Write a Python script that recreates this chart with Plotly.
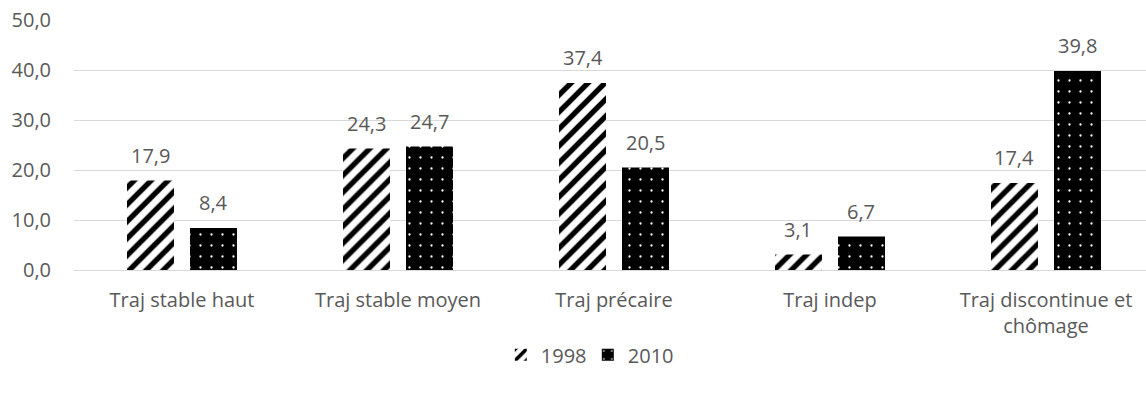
import plotly.graph_objects as go

categories = ["Traj stable haut", "Traj stable moyen", "Traj précaire", "Traj indep",
              "Traj discontinue et<br>chômage"]
values_1998 = [17.9, 24.3, 37.4, 3.1, 17.4]
values_2010 = [8.4, 24.7, 20.5, 6.7, 39.8]
y_ticks = [0, 10, 20, 30, 40, 50]

FONT = "Open Sans"
GREY = "#595959"
SIZE = 20
CAT_PX = 216          # pixel width of one category slot
SLOT_PX = 63          # distance between the two bar centres in a group


def fmt(v):
    return f"{v:.1f}".replace(".", ",")


fig = go.Figure()
fig.add_trace(go.Bar(
    name="1998", x=categories, y=values_1998,
    marker=dict(color="white", line=dict(width=0),
                pattern=dict(shape="/", fgcolor="black", bgcolor="white",
                             fgopacity=1, size=12, solidity=0.45)),
))
fig.add_trace(go.Bar(
    name="2010", x=categories, y=values_2010,
    marker=dict(color="black", line=dict(width=0),
                pattern=dict(shape=".", fgcolor="white", bgcolor="black",
                             fgopacity=1, size=11, solidity=0.035)),
))

# value labels above each bar
for series, dx in ((values_1998, -SLOT_PX / 2), (values_2010, SLOT_PX / 2)):
    for cat, v in zip(categories, series):
        fig.add_annotation(x=cat, y=v, xref="x", yref="y", text=fmt(v),
                           showarrow=False, xshift=dx, yshift=10,
                           yanchor="bottom", xanchor="center",
                           font=dict(family=FONT, size=SIZE, color=GREY))

fig.update_layout(
    width=1146, height=396,
    margin=dict(l=74, r=0, t=20, b=126, autoexpand=False),
    paper_bgcolor="white", plot_bgcolor="white",
    separators=", ",
    barmode="group", bargap=1 - 2 * SLOT_PX / CAT_PX, bargroupgap=0.254,
    font=dict(family=FONT, size=SIZE, color=GREY),
    showlegend=True,
    legend=dict(orientation="h", xref="container", x=0.437, xanchor="left",
                yref="container", y=0.104, yanchor="middle",
                font=dict(family=FONT, size=SIZE, color=GREY),
                itemwidth=30, entrywidth=42, tracegroupgap=0),
)
fig.update_xaxes(range=[-0.5, 4.463], showgrid=False, showline=False,
                 ticks="", ticklabelstandoff=16, automargin=False,
                 tickfont=dict(family=FONT, size=SIZE, color=GREY))
fig.update_yaxes(range=[0, 50], tickvals=y_ticks, tickformat=".1f",
                 showgrid=True, gridcolor="#d9d9d9", gridwidth=1,
                 zeroline=True, zerolinecolor="#d9d9d9", zerolinewidth=1,
                 showline=False, ticks="", ticklabelstandoff=22, automargin=False,
                 tickfont=dict(family=FONT, size=SIZE, color=GREY))

fig.write_html("out.html")
